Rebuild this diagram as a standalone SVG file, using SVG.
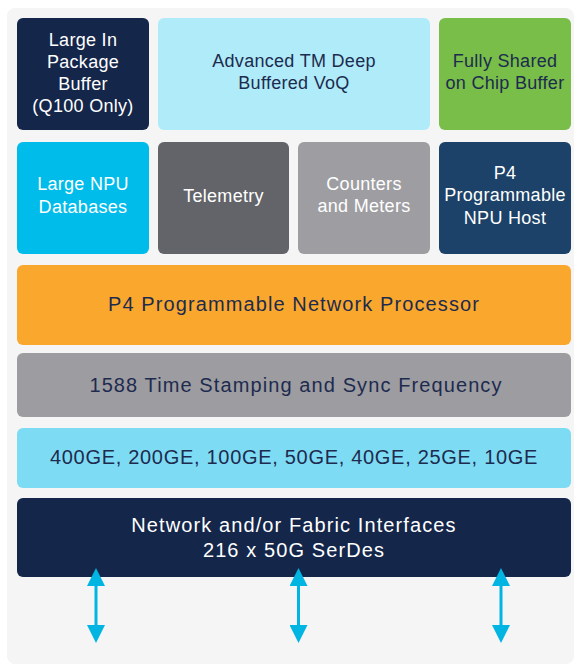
<svg xmlns="http://www.w3.org/2000/svg" width="576" height="667" viewBox="0 0 576 667">
<style>
text{font-family:"Liberation Sans",Arial,sans-serif;font-size:18px;letter-spacing:0.3px;text-anchor:middle;dominant-baseline:central}
.d{fill:#1d2b4f}
.w{fill:#ffffff}
.big{font-size:20px;letter-spacing:1.1px}
.ge{letter-spacing:0.7px}
</style>
<defs>
<marker id="ah" viewBox="0 0 10 10" refX="0" refY="5" markerWidth="7" markerHeight="6" markerUnits="strokeWidth" orient="auto-start-reverse">
<path d="M0,0 L10,5 L0,10 Z" fill="#00b5e2"/>
</marker>
</defs>
<rect x="7" y="8" width="567" height="656" rx="8" fill="#f5f5f5"/>
<g id="n-large-in-package"><rect x="17" y="18" width="132" height="112" rx="6" fill="#14264a"/>
<text class="w" x="83" y="40">Large In</text><text class="w" x="83" y="62">Package</text><text class="w" x="83" y="84">Buffer</text><text class="w" x="83" y="106">(Q100 Only)</text></g>
<g id="n-advanced-tm"><rect x="158" y="18" width="272" height="112" rx="6" fill="#b0ebf9"/>
<text class="d" x="294" y="61">Advanced TM Deep</text><text class="d" x="294" y="83">Buffered VoQ</text></g>
<g id="n-fully-shared"><rect x="439" y="18" width="132" height="112" rx="6" fill="#78be48"/>
<text class="d" x="505" y="61">Fully Shared</text><text class="d" x="505" y="83">on Chip Buffer</text></g>
<g id="n-large-npu"><rect x="17" y="142" width="132" height="112" rx="6" fill="#00bceb"/>
<text class="w" x="83" y="184">Large NPU</text><text class="w" x="83" y="207">Databases</text></g>
<g id="n-telemetry"><rect x="158" y="142" width="131" height="112" rx="6" fill="#626469"/>
<text class="w" x="223.5" y="196">Telemetry</text></g>
<g id="n-counters"><rect x="298" y="142" width="132" height="112" rx="6" fill="#9e9ea2"/>
<text class="w" x="364" y="184">Counters</text><text class="w" x="364" y="206">and Meters</text></g>
<g id="n-p4-npu-host"><rect x="439" y="142" width="132" height="112" rx="6" fill="#1d4269"/>
<text class="w" x="505" y="173">P4</text><text class="w" x="505" y="195">Programmable</text><text class="w" x="505" y="218">NPU Host</text></g>
<g id="n-p4-network-processor"><rect x="17" y="265" width="554" height="80" rx="6" fill="#f9a82d"/>
<text class="d big" x="294" y="304">P4 Programmable Network Processor</text></g>
<g id="n-1588"><rect x="17" y="353" width="554" height="64" rx="6" fill="#9d9ca1"/>
<text class="d big" x="296" y="385">1588 Time Stamping and Sync Frequency</text></g>
<g id="n-ge"><rect x="17" y="428" width="554" height="60" rx="6" fill="#7ddcf4"/>
<text class="d big ge" x="294" y="457">400GE, 200GE, 100GE, 50GE, 40GE, 25GE, 10GE</text></g>
<g id="n-interfaces"><rect x="17" y="498" width="554" height="79" rx="6" fill="#14264a"/>
<text class="w big" x="294" y="525">Network and/or Fabric Interfaces</text><text class="w big" x="294" y="550">216 x 50G SerDes</text></g>
<g id="connectors" stroke="#00b5e2" stroke-width="3" fill="none">
<line x1="96" y1="586" x2="96" y2="625" marker-start="url(#ah)" marker-end="url(#ah)"/>
<line x1="298.5" y1="586" x2="298.5" y2="625" marker-start="url(#ah)" marker-end="url(#ah)"/>
<line x1="501" y1="586" x2="501" y2="625" marker-start="url(#ah)" marker-end="url(#ah)"/>
</g>
</svg>
